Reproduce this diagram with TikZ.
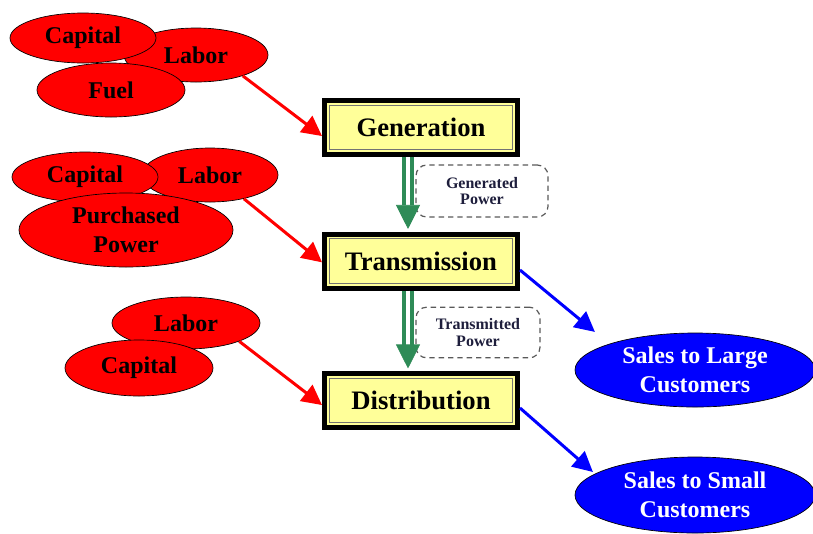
\documentclass[tikz,border=0pt]{standalone}
\usepackage{fontspec}
\setmainfont{Liberation Serif}
\usetikzlibrary{shapes.geometric, arrows.meta}

\definecolor{boxyellow}{RGB}{255,255,153}
\definecolor{flowgreen}{RGB}{46,139,87}
\definecolor{notecol}{RGB}{30,30,60}

\tikzset{
  input/.style n args={2}{ellipse, draw=black, line width=0.5pt, fill=red, inner sep=0pt,
    minimum width=#1*0.75pt, minimum height=#2*0.75pt, align=center,
    font=\bfseries\fontsize{18}{22}\selectfont},
  output/.style n args={2}{input={#1}{#2}, fill=blue, text=white},
  stage/.style={draw=black, line width=3.75pt, fill=boxyellow, inner sep=0pt,
    minimum width=144.75pt, minimum height=40.5pt,
    font=\bfseries\fontsize{20}{22}\selectfont,
    path picture={\draw[black!55, line width=0.6pt]
      ([shift={(3.6pt,-3.6pt)}]path picture bounding box.north west) rectangle
      ([shift={(-3.6pt,3.6pt)}]path picture bounding box.south east);}},
  note/.style={draw=black!65, dash pattern=on 4pt off 3pt, line width=0.9pt,
    rounded corners=8pt, inner sep=0pt, align=center, text=notecol,
    font=\bfseries\fontsize{12}{12.5}\selectfont},
  inflow/.style={draw=red, line width=2.25pt, -{Triangle[width=15pt,length=15pt]}},
  outflow/.style={draw=blue, line width=2.25pt, -{Triangle[width=15pt,length=15pt]}},
  flow/.style={draw=flowgreen, line width=3.4pt, double=white, double distance=2.6pt,
    -{Triangle[width=18pt,length=18pt,line width=0.5pt]}, shorten >=1.9pt}
}

\begin{document}
\begin{tikzpicture}[x=0.75pt, y=-0.75pt]
  \useasboundingbox (0,0) rectangle (813,533);

  % generation inputs %%%%%%%%%%%%%%%%%%%%%%%%%%%%%%%%%%%%%%%%%%%%%%%%%%%%%%%%%%%%
  \node[input={144}{54}] (lab1) at (196,55) {Labor};
  \node[input={146}{50}] (cap1) at (83,38) {Capital};
  \node[input={148}{54}] (fuel1) at (111,90) {Fuel};
  % transmission inputs %%%%%%%%%%%%%%%%%%%%%%%%%%%%%%%%%%%%%%%%%%%%%%%%%%%%%%%%%%
  \node[input={136}{54}] (lab2) at (210,175) {Labor};
  \node[input={146}{50}] (cap2) at (85,177) {Capital};
  \node[input={214}{74}] (purch) at (126,230) {Purchased\\Power};
  % distribution inputs %%%%%%%%%%%%%%%%%%%%%%%%%%%%%%%%%%%%%%%%%%%%%%%%%%%%%%%%%%
  \node[input={148}{52}] (lab3) at (186,323) {Labor};
  \node[input={148}{56}] (cap3) at (139,368) {Capital};

  % stages %%%%%%%%%%%%%%%%%%%%%%%%%%%%%%%%%%%%%%%%%%%%%%%%%%%%%%%%%%%%%%%%%%%%%%%
  \node[stage] (gen) at (421,127.5) {Generation};
  \node[stage] (trans) at (421,261) {Transmission};
  \node[stage] (dist) at (421,400.5) {Distribution};
  \node[note, minimum width=99pt, minimum height=39pt] (genpow) at (482,191) {Generated\\Power};
  \node[note, minimum width=93pt, minimum height=38pt] (transpow) at (478,332.5) {Transmitted\\Power};

  % sales %%%%%%%%%%%%%%%%%%%%%%%%%%%%%%%%%%%%%%%%%%%%%%%%%%%%%%%%%%%%%%%%%%%%%%%%%
  \node[output={240}{74}] (salesl) at (695,370) {Sales to Large\\Customers};
  \node[output={240}{76}] (saless) at (695,495) {Sales to Small\\Customers};

  % arrows %%%%%%%%%%%%%%%%%%%%%%%%%%%%%%%%%%%%%%%%%%%%%%%%%%%%%%%%%%%%%%%%%%%%%%%%
  \draw[inflow] (lab1.-24) -- ([yshift=-6.4pt]gen.west);
  \draw[inflow] (lab2.-35) -- ([yshift=-1pt]trans.west);
  \draw[inflow] (lab3.-19) -- ([yshift=-3.4pt]dist.west);
  \draw[flow] ([xshift=-9.75pt]gen.south) -- ([xshift=-9.75pt]trans.north);
  \draw[flow] ([xshift=-9.75pt]trans.south) -- ([xshift=-9.75pt]dist.north);
  \draw[outflow, shorten >=14pt] ([yshift=-6.75pt]trans.east) -- (salesl.163);
  \draw[outflow, shorten >=2pt] ([yshift=-5.6pt]dist.east) -- (saless.168);
\end{tikzpicture}
\end{document}
